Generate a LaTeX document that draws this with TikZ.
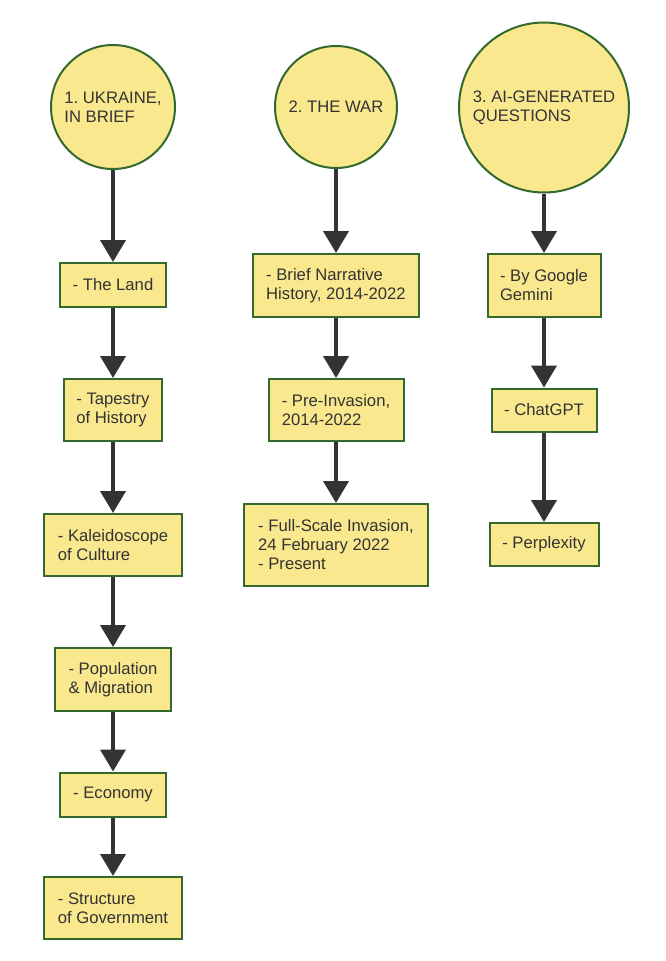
\documentclass[tikz,border=0pt]{standalone}
\usepackage{fontspec}
\setmainfont{Liberation Sans}
\usetikzlibrary{arrows.meta}
\definecolor{nodefill}{RGB}{250,232,143}
\definecolor{nodeline}{RGB}{52,105,45}
\definecolor{arrowcol}{RGB}{51,51,51}
\definecolor{textcol}{RGB}{51,51,51}
\begin{document}
\begin{tikzpicture}[x=0.75pt,y=-0.75pt,
  base/.style={draw=nodeline, fill=nodefill, line width=1.5pt, inner sep=0pt,
    align=left, text=textcol, font={\fontsize{12.5pt}{14.25pt}\selectfont\frenchspacing}},
  box/.style={base, rectangle},
  topic/.style={base, circle},
  arr/.style={draw=arrowcol, line width=3pt, -{Triangle[width=18.75pt,length=16.5pt]}}
]
\useasboundingbox (0,0) rectangle (666,961);
% column 1
\node[topic, minimum size=124*0.75pt] (c1) at (113,107) {1. UKRAINE,\\IN BRIEF};
\node[box, minimum width=106*0.75pt, minimum height=44*0.75pt] (land) at (113,285) {- The Land};
\node[box, minimum width=98*0.75pt, minimum height=62*0.75pt] (hist) at (113,410) {- Tapestry\\of History};
\node[box, minimum width=138*0.75pt, minimum height=62*0.75pt] (cult) at (113,545) {- Kaleidoscope\\of Culture};
\node[box, minimum width=116*0.75pt, minimum height=63*0.75pt] (pop) at (113,679.5) {- Population\\\& Migration};
\node[box, minimum width=106*0.75pt, minimum height=44*0.75pt] (econ) at (113,794.5) {- Economy};
\node[box, minimum width=138*0.75pt, minimum height=62*0.75pt] (gov) at (113,908) {- Structure\\of Government};
% column 2
\node[topic, minimum size=122*0.75pt] (c2) at (336,107) {2. THE WAR};
\node[box, minimum width=166*0.75pt, minimum height=63*0.75pt] (brief) at (336,285.5) {- Brief Narrative\\History, 2014-2022};
\node[box, minimum width=135*0.75pt, minimum height=62*0.75pt] (pre) at (336,410) {- Pre-Invasion,\\2014-2022};
\node[box, minimum width=184*0.75pt, minimum height=82*0.75pt] (full) at (336,545) {- Full-Scale Invasion,\\24 February 2022\\- Present};
% column 3
\node[topic, minimum size=170*0.75pt] (c3) at (544,107.5) {3. AI-GENERATED\\QUESTIONS};
\node[box, minimum width=113*0.75pt, minimum height=63*0.75pt] (gem) at (544,285.5) {- By Google\\Gemini};
\node[box, minimum width=105*0.75pt, minimum height=43*0.75pt] (gpt) at (544,410) {- ChatGPT};
\node[box, minimum width=109*0.75pt, minimum height=43*0.75pt] (perp) at (544,544.5) {- Perplexity};
% connectors
\draw[arr] (c1) -- (land);
\draw[arr] (land) -- (hist);
\draw[arr] (hist) -- (cult);
\draw[arr] (cult) -- (pop);
\draw[arr] (pop) -- (econ);
\draw[arr] (econ) -- (gov);
\draw[arr] (c2) -- (brief);
\draw[arr] (brief) -- (pre);
\draw[arr] (pre) -- (full);
\draw[arr] (c3) -- (gem);
\draw[arr] (gem) -- (gpt);
\draw[arr] (gpt) -- (perp);
\end{tikzpicture}
\end{document}
